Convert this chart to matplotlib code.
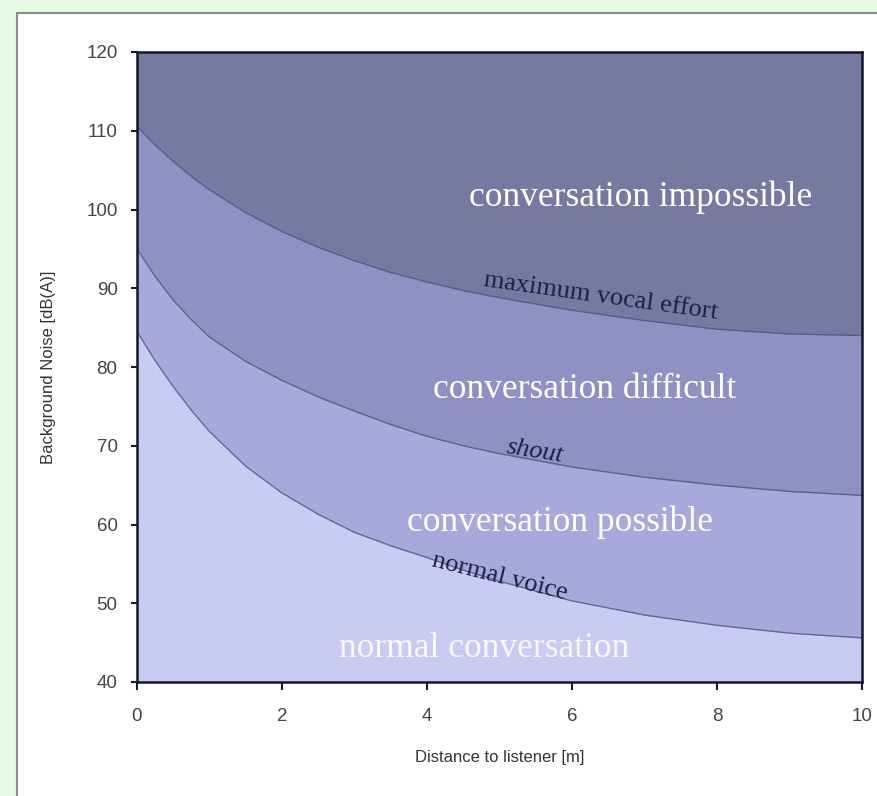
import numpy as np
import matplotlib.pyplot as plt
from matplotlib.patches import Rectangle

# distance to listener [m]
distance = [0, 0.25, 0.5, 0.75, 1, 1.5, 2, 2.5, 3, 3.5, 4, 4.5, 5, 6, 7, 8, 9, 10]
# boundary curves [dB(A)]
max_vocal = [110.5, 108.2, 106.1, 104.2, 102.5, 99.6, 97.2, 95.2, 93.5, 92, 90.8,
             89.7, 88.8, 87.2, 85.9, 84.8, 84.2, 84]
shout = [95, 91.5, 88.5, 86, 83.8, 80.7, 78.3, 76.2, 74.4, 72.7, 71.2,
         70, 69, 67.3, 66, 65, 64.2, 63.7]
normal_voice = [84.5, 80.8, 77.5, 74.5, 71.8, 67.4, 64, 61.3, 59, 57.3, 55.8,
                54.2, 52.8, 50.3, 48.5, 47.2, 46.2, 45.6]

region_labels = ["conversation impossible", "conversation difficult",
                 "conversation possible", "normal conversation"]
curve_labels = ["maximum vocal effort", "shout", "normal voice"]

x_ticks = [0, 2, 4, 6, 8, 10]
y_ticks = [40, 50, 60, 70, 80, 90, 100, 110, 120]

# colours, dark to light
c_imp = "#767aa0"
c_diff = "#8e91c1"
c_poss = "#a7a9da"
c_norm = "#c8cbf2"

fig = plt.figure(figsize=(8.78, 7.96), dpi=100)
fig.patch.set_facecolor("#e4fbe4")
# white panel with grey border, kept behind the axes
fig.patches.append(Rectangle((17 / 878, -0.05), 1.1, 1 - 13 / 796 + 0.05,
                             transform=fig.transFigure, facecolor="white",
                             edgecolor="#8a8a8a", lw=1.5, zorder=-10))

ax = fig.add_axes([137 / 878, 1 - 682 / 796, (862 - 137) / 878, (682 - 52) / 796])
ax.set_facecolor(c_imp)

x = np.array(distance)
ax.fill_between(x, 40, max_vocal, color=c_diff, lw=0)
ax.fill_between(x, 40, shout, color=c_poss, lw=0)
ax.fill_between(x, 40, normal_voice, color=c_norm, lw=0)
for curve in [max_vocal, shout, normal_voice]:
    ax.plot(x, curve, color="#4f5480", lw=1.0, alpha=0.8)

ax.set_xlim(0, 10)
ax.set_ylim(40, 120)
ax.set_xticks(x_ticks)
ax.set_yticks(y_ticks)
ax.tick_params(axis="both", colors="#1a1a2a", labelcolor="#444444", labelsize=13.5,
               direction="out", width=1.5)
ax.tick_params(axis="x", length=6, pad=13)
ax.tick_params(axis="y", length=4, pad=10)
for lab in ax.get_xticklabels() + ax.get_yticklabels():
    lab.set_family("Liberation Sans")
for s in ax.spines.values():
    s.set_color("#15172a")
    s.set_linewidth(1.8)

ax.set_xlabel("Distance to listener [m]", fontsize=12, color="#333333", labelpad=18,
              family="Liberation Sans")
ax.set_ylabel("Background Noise [dB(A)]", fontsize=12, color="#333333", labelpad=22,
              family="Liberation Sans")

big = dict(family="Liberation Serif", color="white", fontsize=25.5, ha="center", va="center")
ax.text(6.94, 101.5, region_labels[0], **big)
ax.text(6.17, 77.1, region_labels[1], **big)
ax.text(5.83, 60.3, region_labels[2], **big)
ax.text(4.79, 44.3, region_labels[3], alpha=0.9, **big)

small = dict(family="Liberation Serif", color="#1c1f45", fontsize=19, ha="center", va="center")
ax.text(6.39, 88.9, curve_labels[0], rotation=-8, **small)
ax.text(5.49, 69.3, curve_labels[1], rotation=-9, style="italic", **small)
ax.text(5.0, 53.4, curve_labels[2], rotation=-14, **small)

fig.savefig("out.png", dpi=100, facecolor=fig.get_facecolor())
